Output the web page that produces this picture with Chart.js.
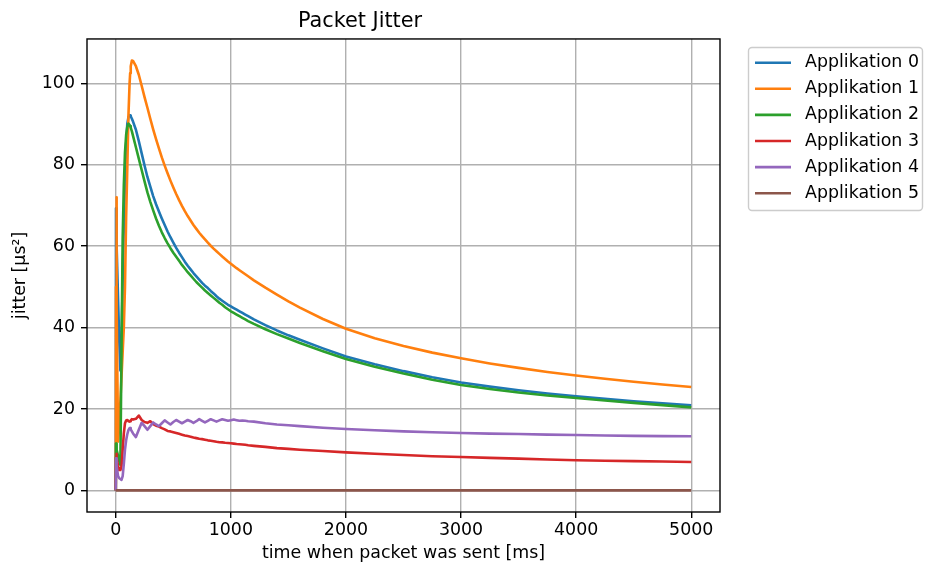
<!DOCTYPE html>
<html>
<head>
<meta charset="utf-8">
<title>Packet Jitter</title>
<script src="https://cdn.jsdelivr.net/npm/chart.js@4/dist/chart.umd.min.js"></script>
<style>
  html, body { margin: 0; padding: 0; background: #fff; }
</style>
</head>
<body>
<canvas id="jitterChart" width="929" height="570"></canvas>
<script>
// time when packet was sent [ms]
const times = [
  0, 2, 5, 10, 20, 30, 40, 50, 60, 70, 80, 90, 100, 110, 120, 125, 130, 140,
  150, 175, 200, 225, 250, 275, 300, 325, 350, 375,
  400, 425, 450, 475, 500, 525, 550, 575, 600, 625,
  650, 675, 700, 725, 750, 775, 800, 825, 850, 875,
  900, 925, 950, 975, 1000, 1025, 1050, 1075, 1100, 1125,
  1150,
  1200, 1300, 1400, 1500, 1600, 1800,
  2000, 2250, 2500, 2750, 3000, 3250, 3500, 3750, 4000, 4250, 4500, 4750, 5000
];

const seriesNames = ['Applikation 0', 'Applikation 1', 'Applikation 2', 'Applikation 3', 'Applikation 4', 'Applikation 5'];
const seriesColors = ['#1f77b4', '#ff7f0e', '#2ca02c', '#d62728', '#9467bd', '#8c564b'];

// jitter values, one per entry in times
const app0 = [
  0, 69.3, 66, 60, 47, 37, 29.5, 36, 52, 65, 76, 85, 90, 91.7, 92.2, 92.1, 91.9, 91.3,
  90.6, 88.6, 85.8, 82.8, 79.8, 77.0, 74.6, 72.3, 70.3, 68.5,
  66.8, 65.2, 63.6, 62.2, 60.9, 59.6, 58.4, 57.3, 56.2, 55.2,
  54.3, 53.4, 52.6, 51.8, 51.0, 50.3, 49.7, 49.0, 48.4, 47.7,
  47.1, 46.6, 46.1, 45.6, 45.2, 44.8, 44.4, 44.0, 43.6, 43.2,
  42.8,
  42.0, 40.6, 39.3, 38.1, 37.0, 34.9,
  32.9, 31.0, 29.3, 27.8, 26.5, 25.5, 24.6, 23.8, 23.1, 22.5, 21.9, 21.4, 20.9
];
const app1 = [
  0, 50, 72, 45, 12, 16, 22, 28, 34, 40, 50, 67, 79, 92, 100, 102.5, 104.2, 105.6,
  105.5, 104.2, 102.1, 99.4, 96.6, 94.0, 91.3, 88.7, 86.3, 84.0,
  81.8, 79.8, 77.9, 76.1, 74.4, 72.8, 71.3, 69.9, 68.6, 67.4,
  66.3, 65.2, 64.25, 63.3, 62.45, 61.65, 60.85, 60.1, 59.4, 58.75,
  58.1, 57.45, 56.85, 56.25, 55.7, 55.15, 54.6, 54.1, 53.6, 53.1,
  52.6,
  51.6, 49.8, 48.1, 46.45, 44.9, 42.1,
  39.7, 37.4, 35.5, 33.85, 32.45, 31.2, 30.1, 29.1, 28.25, 27.45, 26.7, 26.0, 25.4
];
const app2 = [
  0, 11.5, 11.0, 10.0, 8.5, 7.2, 6.3, 35, 62, 75, 83, 87.3, 89.3, 90.1, 89.8, 89.5, 89.1, 88.2,
  87.1, 84.3, 81.5, 78.7, 75.9, 73.2, 70.9, 68.8, 66.8, 65.0,
  63.4, 62.0, 60.7, 59.5, 58.4, 57.4, 56.4, 55.4, 54.5, 53.6,
  52.8, 52.0, 51.2, 50.5, 49.8, 49.1, 48.5, 47.9, 47.3, 46.7,
  46.1, 45.6, 45.0, 44.5, 44.0, 43.6, 43.2, 42.8, 42.4, 42.0,
  41.6,
  40.9, 39.6, 38.4, 37.3, 36.2, 34.2,
  32.3, 30.4, 28.7, 27.2, 25.9, 24.9, 24.05, 23.3, 22.7, 22.1, 21.5, 20.95, 20.4
];
const app3 = [
  0, 8, 9, 8, 6, 5, 5, 6, 10, 14, 16.5, 17.2, 17.3, 17.0, 16.9, 17.0, 17.2, 17.5,
  17.4, 17.6, 18.4, 17.3, 16.8, 16.6, 17.0, 16.3, 15.9, 15.7,
  15.3, 15.0, 14.6, 14.5, 14.3, 14.1, 13.9, 13.7, 13.5, 13.35,
  13.2, 13.0, 12.85, 12.7, 12.6, 12.45, 12.3, 12.2, 12.1, 11.95,
  11.85, 11.8, 11.7, 11.65, 11.6, 11.5, 11.4, 11.35, 11.3, 11.2,
  11.1,
  10.95, 10.7, 10.4, 10.2, 10.0, 9.7,
  9.35, 9.0, 8.7, 8.4, 8.2, 8.0, 7.8, 7.6, 7.4, 7.3, 7.2, 7.1, 7.0
];
const app4 = [
  0, 7.9, 7.5, 6.0, 3.5, 3.0, 2.8, 2.6, 3.5, 6.5, 10.0, 12.3, 13.8, 14.8, 15.3, 15.3, 15.0, 14.5,
  14.0, 13.1, 14.9, 16.6, 15.8, 14.9, 15.8, 16.7, 16.2, 15.8,
  16.5, 17.2, 16.7, 16.2, 16.8, 17.3, 16.9, 16.5, 16.9, 17.3,
  17.0, 16.6, 17.0, 17.5, 17.1, 16.7, 17.1, 17.5, 17.2, 16.9,
  17.2, 17.5, 17.3, 17.1, 17.25, 17.4, 17.25, 17.1, 17.15, 17.1,
  17.0,
  16.9, 16.5, 16.2, 16.0, 15.8, 15.4,
  15.1, 14.8, 14.5, 14.3, 14.1, 13.95, 13.85, 13.7, 13.6, 13.5, 13.4, 13.35, 13.3
];
const app5 = [
  0, 0, 0, 0, 0, 0, 0, 0, 0, 0, 0, 0, 0,
  0, 0, 0, 0, 0, 0, 0, 0, 0, 0, 0, 0, 0,
  0, 0, 0, 0, 0, 0, 0, 0, 0, 0, 0, 0, 0,
  0, 0, 0, 0, 0, 0, 0, 0, 0, 0, 0, 0, 0,
  0, 0, 0, 0, 0, 0, 0, 0, 0, 0, 0, 0, 0,
  0, 0, 0, 0, 0, 0, 0, 0, 0, 0, 0, 0, 0
];

const xTicks = [0, 1000, 2000, 3000, 4000, 5000];
const yTicks = [0, 20, 40, 60, 80, 100];

const FONT = 'DejaVu Sans';
Chart.defaults.font.family = FONT;
Chart.defaults.color = '#000';

// matplotlib style frame + legend outside the axes
const frameAndLegend = {
  id: 'frameAndLegend',
  afterDraw(chart) {
    const ctx = chart.ctx;
    const a = chart.chartArea;
    ctx.save();
    ctx.strokeStyle = '#000';
    ctx.lineWidth = 1.4;
    ctx.strokeRect(a.left, a.top, a.right - a.left, a.bottom - a.top);

    const bx = 748.5, by = 47.5, bw = 174, bh = 163, r = 3.5;
    ctx.beginPath();
    ctx.moveTo(bx + r, by);
    ctx.arcTo(bx + bw, by, bx + bw, by + bh, r);
    ctx.arcTo(bx + bw, by + bh, bx, by + bh, r);
    ctx.arcTo(bx, by + bh, bx, by, r);
    ctx.arcTo(bx, by, bx + bw, by, r);
    ctx.closePath();
    ctx.fillStyle = 'rgba(255,255,255,0.8)';
    ctx.fill();
    ctx.strokeStyle = '#cccccc';
    ctx.lineWidth = 1.4;
    ctx.stroke();

    ctx.font = '17.4px "' + FONT + '"';
    ctx.textBaseline = 'middle';
    ctx.textAlign = 'left';
    chart.data.datasets.forEach((ds, i) => {
      const y = 62.7 + i * 26.1;
      ctx.strokeStyle = ds.borderColor;
      ctx.lineWidth = 2.6;
      ctx.beginPath();
      ctx.moveTo(755, y);
      ctx.lineTo(791, y);
      ctx.stroke();
      ctx.fillStyle = '#000';
      ctx.fillText(ds.label, 805, y);
    });
    ctx.restore();
  }
};

const allSeries = [app0, app1, app2, app3, app4, app5];
const datasets = allSeries.map((vals, i) => ({
  label: seriesNames[i],
  data: times.map((t, k) => ({ x: t, y: vals[k] })),
  borderColor: seriesColors[i],
  backgroundColor: seriesColors[i],
  borderWidth: 2.6,
  borderJoinStyle: 'round',
  pointRadius: 0,
  tension: 0,
  order: allSeries.length - 1 - i
}));

const gridStyle = { color: '#b0b0b0', lineWidth: 1.4, tickLength: 6, tickColor: '#000', tickWidth: 1.4 };

new Chart(document.getElementById('jitterChart'), {
  type: 'line',
  data: { datasets: datasets },
  options: {
    responsive: false,
    animation: false,
    devicePixelRatio: 1,
    layout: { padding: { left: 0, right: 209, top: 0, bottom: 0 } },
    plugins: {
      legend: { display: false },
      tooltip: { enabled: false },
      title: {
        display: true,
        text: 'Packet Jitter',
        color: '#000',
        font: { size: 20.8, weight: 'normal' },
        padding: { top: 9, bottom: 5 }
      }
    },
    scales: {
      x: {
        type: 'linear',
        min: -250,
        max: 5250,
        afterBuildTicks: s => { s.ticks = xTicks.map(v => ({ value: v })); },
        afterFit: s => { s.height = 58; },
        grid: gridStyle,
        border: { display: false },
        ticks: { font: { size: 17.4 }, padding: 2, maxRotation: 0, autoSkip: false, callback: v => String(v) },
        title: {
          display: true,
          text: 'time when packet was sent [ms]',
          font: { size: 17.4 },
          padding: { top: 0, bottom: 6 }
        }
      },
      y: {
        type: 'linear',
        min: -5.3,
        max: 110.9,
        afterBuildTicks: s => { s.ticks = yTicks.map(v => ({ value: v })); },
        afterFit: s => { s.width = 87; },
        grid: gridStyle,
        border: { display: false },
        ticks: { font: { size: 17.4 }, padding: 6, callback: v => String(v) },
        title: {
          display: true,
          text: 'jitter [μs²]',
          font: { size: 17.4 },
          padding: { top: 10, bottom: 0 }
        }
      }
    }
  },
  plugins: [frameAndLegend]
});
</script>
</body>
</html>
